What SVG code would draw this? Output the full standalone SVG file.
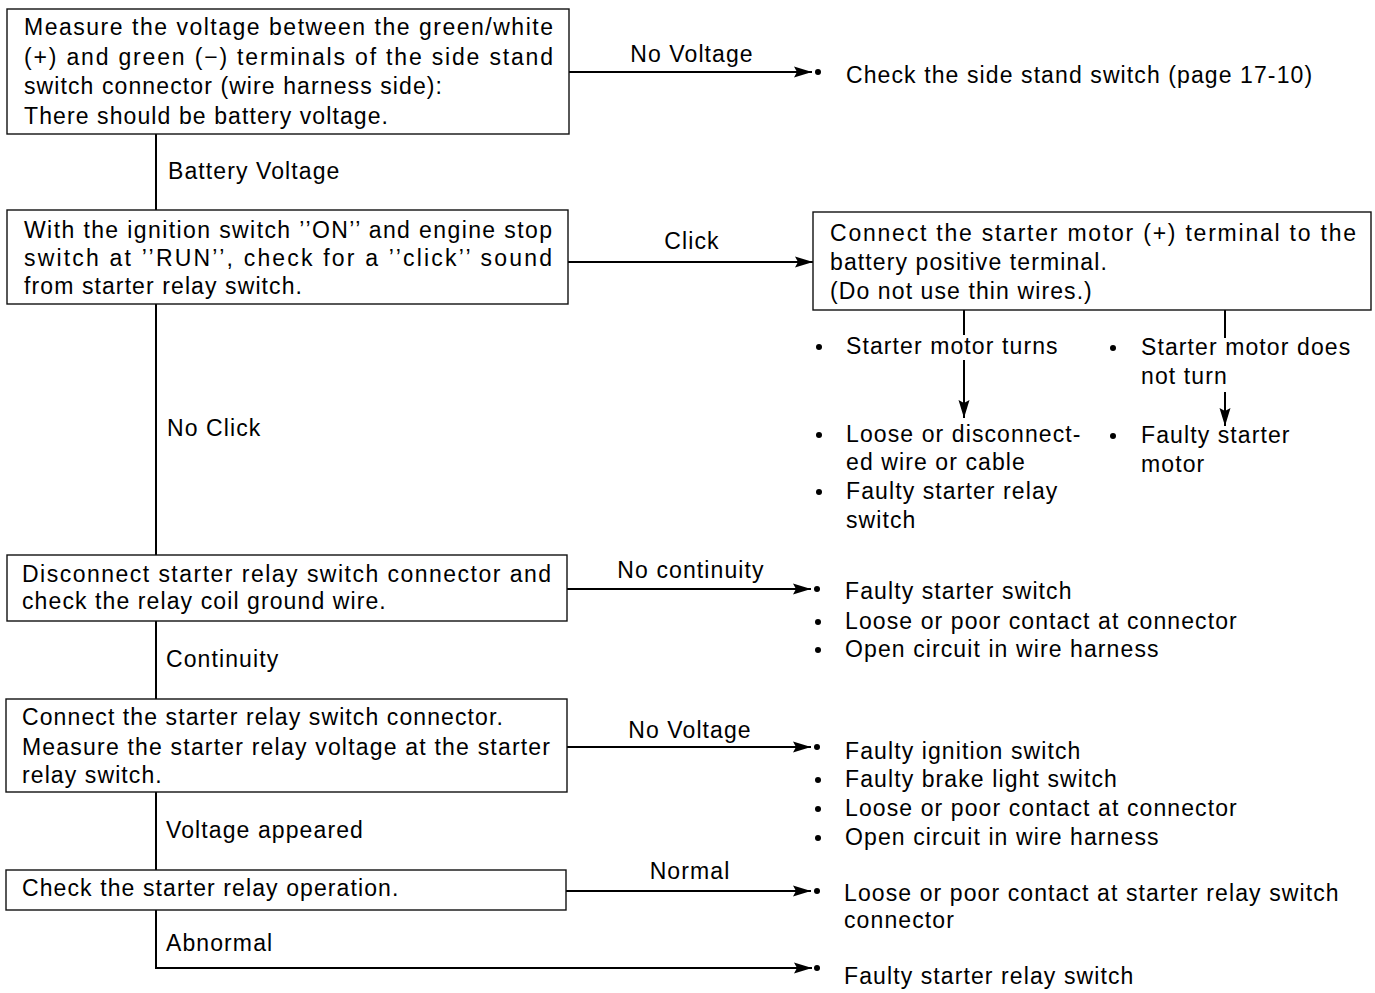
<svg xmlns="http://www.w3.org/2000/svg" width="1375" height="993" viewBox="0 0 1375 993">
  <style>
    text { font-family: "Liberation Sans", Arial, sans-serif; font-size: 23px; fill: #000; letter-spacing: 1.1px; }
    text.j { letter-spacing: 0; }
    text.c { text-anchor: middle; }
    .box { fill: #fff; stroke: #111; stroke-width: 1.4; }
    .wire { fill: none; stroke: #000; stroke-width: 2; }
    .dot { fill: #000; }
  </style>
  <defs>
    <marker id="ah" markerUnits="userSpaceOnUse" markerWidth="20" markerHeight="12" refX="18" refY="5.5" orient="auto" overflow="visible">
      <path d="M0,0 L18,5.5 L0,11 L3,5.5 z" fill="#000"/>
    </marker>
  </defs>

  <!-- flow connectors -->
  <g id="connectors">
    <!-- main spine -->
    <line class="wire" x1="156" y1="134" x2="156" y2="210"/>
    <line class="wire" x1="156" y1="304" x2="156" y2="555"/>
    <line class="wire" x1="156" y1="621" x2="156" y2="699"/>
    <line class="wire" x1="156" y1="792" x2="156" y2="870"/>
    <polyline class="wire" points="156,910 156,968 812,968" marker-end="url(#ah)"/>
    <!-- side branches -->
    <line class="wire" x1="569" y1="72" x2="812" y2="72" marker-end="url(#ah)"/>
    <line class="wire" x1="568" y1="262" x2="813" y2="262" marker-end="url(#ah)"/>
    <line class="wire" x1="567" y1="589" x2="811" y2="589" marker-end="url(#ah)"/>
    <line class="wire" x1="567" y1="747" x2="811" y2="747" marker-end="url(#ah)"/>
    <line class="wire" x1="566" y1="891" x2="811" y2="891" marker-end="url(#ah)"/>
    <!-- starter motor branches -->
    <line class="wire" x1="964" y1="310" x2="964" y2="335"/>
    <line class="wire" x1="964" y1="360" x2="964" y2="418" marker-end="url(#ah)"/>
    <line class="wire" x1="1225" y1="310" x2="1225" y2="338"/>
    <line class="wire" x1="1225" y1="392" x2="1225" y2="426" marker-end="url(#ah)"/>
    <!-- end dots -->
    <circle class="dot" cx="818" cy="72" r="3"/>
    <circle class="dot" cx="817" cy="589" r="3"/>
    <circle class="dot" cx="817" cy="747" r="3"/>
    <circle class="dot" cx="817" cy="891" r="3"/>
    <circle class="dot" cx="817" cy="968" r="3"/>
  </g>

  <!-- branch labels -->
  <g id="labels">
    <text x="168" y="179">Battery Voltage</text>
    <text x="167" y="436">No Click</text>
    <text x="166" y="667">Continuity</text>
    <text x="166" y="838">Voltage appeared</text>
    <text x="166" y="951">Abnormal</text>
    <text class="c" x="692" y="62">No Voltage</text>
    <text class="c" x="692" y="249">Click</text>
    <text class="c" x="691" y="578">No continuity</text>
    <text class="c" x="690" y="738">No Voltage</text>
    <text class="c" x="690" y="879">Normal</text>
  </g>

  <g id="step-side-stand">
    <rect class="box" x="7" y="9" width="562" height="125"/>
    <text class="j" x="24" y="35" textLength="529" lengthAdjust="spacing">Measure the voltage between the green/white</text>
    <text class="j" x="24" y="65" textLength="529" lengthAdjust="spacing">(+) and green (−) terminals of the side stand</text>
    <text x="24" y="94">switch connector (wire harness side):</text>
    <text x="24" y="124">There should be battery voltage.</text>
  </g>

  <g id="result-side-stand">
    <text x="846" y="83">Check the side stand switch (page 17-10)</text>
  </g>

  <g id="step-click">
    <rect class="box" x="7" y="210" width="561" height="94"/>
    <text class="j" x="24" y="238" textLength="528" lengthAdjust="spacing">With the ignition switch ’’ON’’ and engine stop</text>
    <text class="j" x="24" y="266" textLength="528" lengthAdjust="spacing">switch at ’’RUN’’, check for a ’’click’’ sound</text>
    <text x="24" y="294">from starter relay switch.</text>
  </g>

  <g id="step-motor">
    <rect class="box" x="813" y="212" width="558" height="98"/>
    <text class="j" x="830" y="241" textLength="526" lengthAdjust="spacing">Connect the starter motor (+) terminal to the</text>
    <text x="830" y="270">battery positive terminal.</text>
    <text x="830" y="299">(Do not use thin wires.)</text>
  </g>

  <g id="motor-turns">
    <circle class="dot" cx="819" cy="347" r="3"/>
    <text x="846" y="354">Starter motor turns</text>
  </g>
  <g id="motor-not-turn">
    <circle class="dot" cx="1113" cy="348" r="3"/>
    <text x="1141" y="355">Starter motor does</text>
    <text x="1141" y="384">not turn</text>
  </g>
  <g id="result-motor-turns">
    <circle class="dot" cx="819" cy="435" r="3"/>
    <text x="846" y="442">Loose or disconnect-</text>
    <text x="846" y="470">ed wire or cable</text>
    <circle class="dot" cx="819" cy="492" r="3"/>
    <text x="846" y="499">Faulty starter relay</text>
    <text x="846" y="528">switch</text>
  </g>
  <g id="result-motor-not-turn">
    <circle class="dot" cx="1113" cy="436" r="3"/>
    <text x="1141" y="443">Faulty starter</text>
    <text x="1141" y="472">motor</text>
  </g>

  <g id="step-ground">
    <rect class="box" x="7" y="555" width="560" height="66"/>
    <text class="j" x="22" y="582" textLength="529" lengthAdjust="spacing">Disconnect starter relay switch connector and</text>
    <text x="22" y="609">check the relay coil ground wire.</text>
  </g>
  <g id="result-ground">
    <text x="845" y="599">Faulty starter switch</text>
    <circle class="dot" cx="818" cy="622" r="3"/>
    <text x="845" y="629">Loose or poor contact at connector</text>
    <circle class="dot" cx="818" cy="650" r="3"/>
    <text x="845" y="657">Open circuit in wire harness</text>
  </g>

  <g id="step-voltage">
    <rect class="box" x="6" y="699" width="561" height="93"/>
    <text x="22" y="725">Connect the starter relay switch connector.</text>
    <text class="j" x="22" y="755" textLength="528" lengthAdjust="spacing">Measure the starter relay voltage at the starter</text>
    <text x="22" y="783">relay switch.</text>
  </g>
  <g id="result-voltage">
    <text x="845" y="759">Faulty ignition switch</text>
    <circle class="dot" cx="818" cy="780" r="3"/>
    <text x="845" y="787">Faulty brake light switch</text>
    <circle class="dot" cx="818" cy="809" r="3"/>
    <text x="845" y="816">Loose or poor contact at connector</text>
    <circle class="dot" cx="818" cy="838" r="3"/>
    <text x="845" y="845">Open circuit in wire harness</text>
  </g>

  <g id="step-relay">
    <rect class="box" x="6" y="870" width="560" height="40"/>
    <text x="22" y="896">Check the starter relay operation.</text>
  </g>
  <g id="result-normal">
    <text x="844" y="901">Loose or poor contact at starter relay switch</text>
    <text x="844" y="928">connector</text>
  </g>
  <g id="result-abnormal">
    <text x="844" y="984">Faulty starter relay switch</text>
  </g>
</svg>
